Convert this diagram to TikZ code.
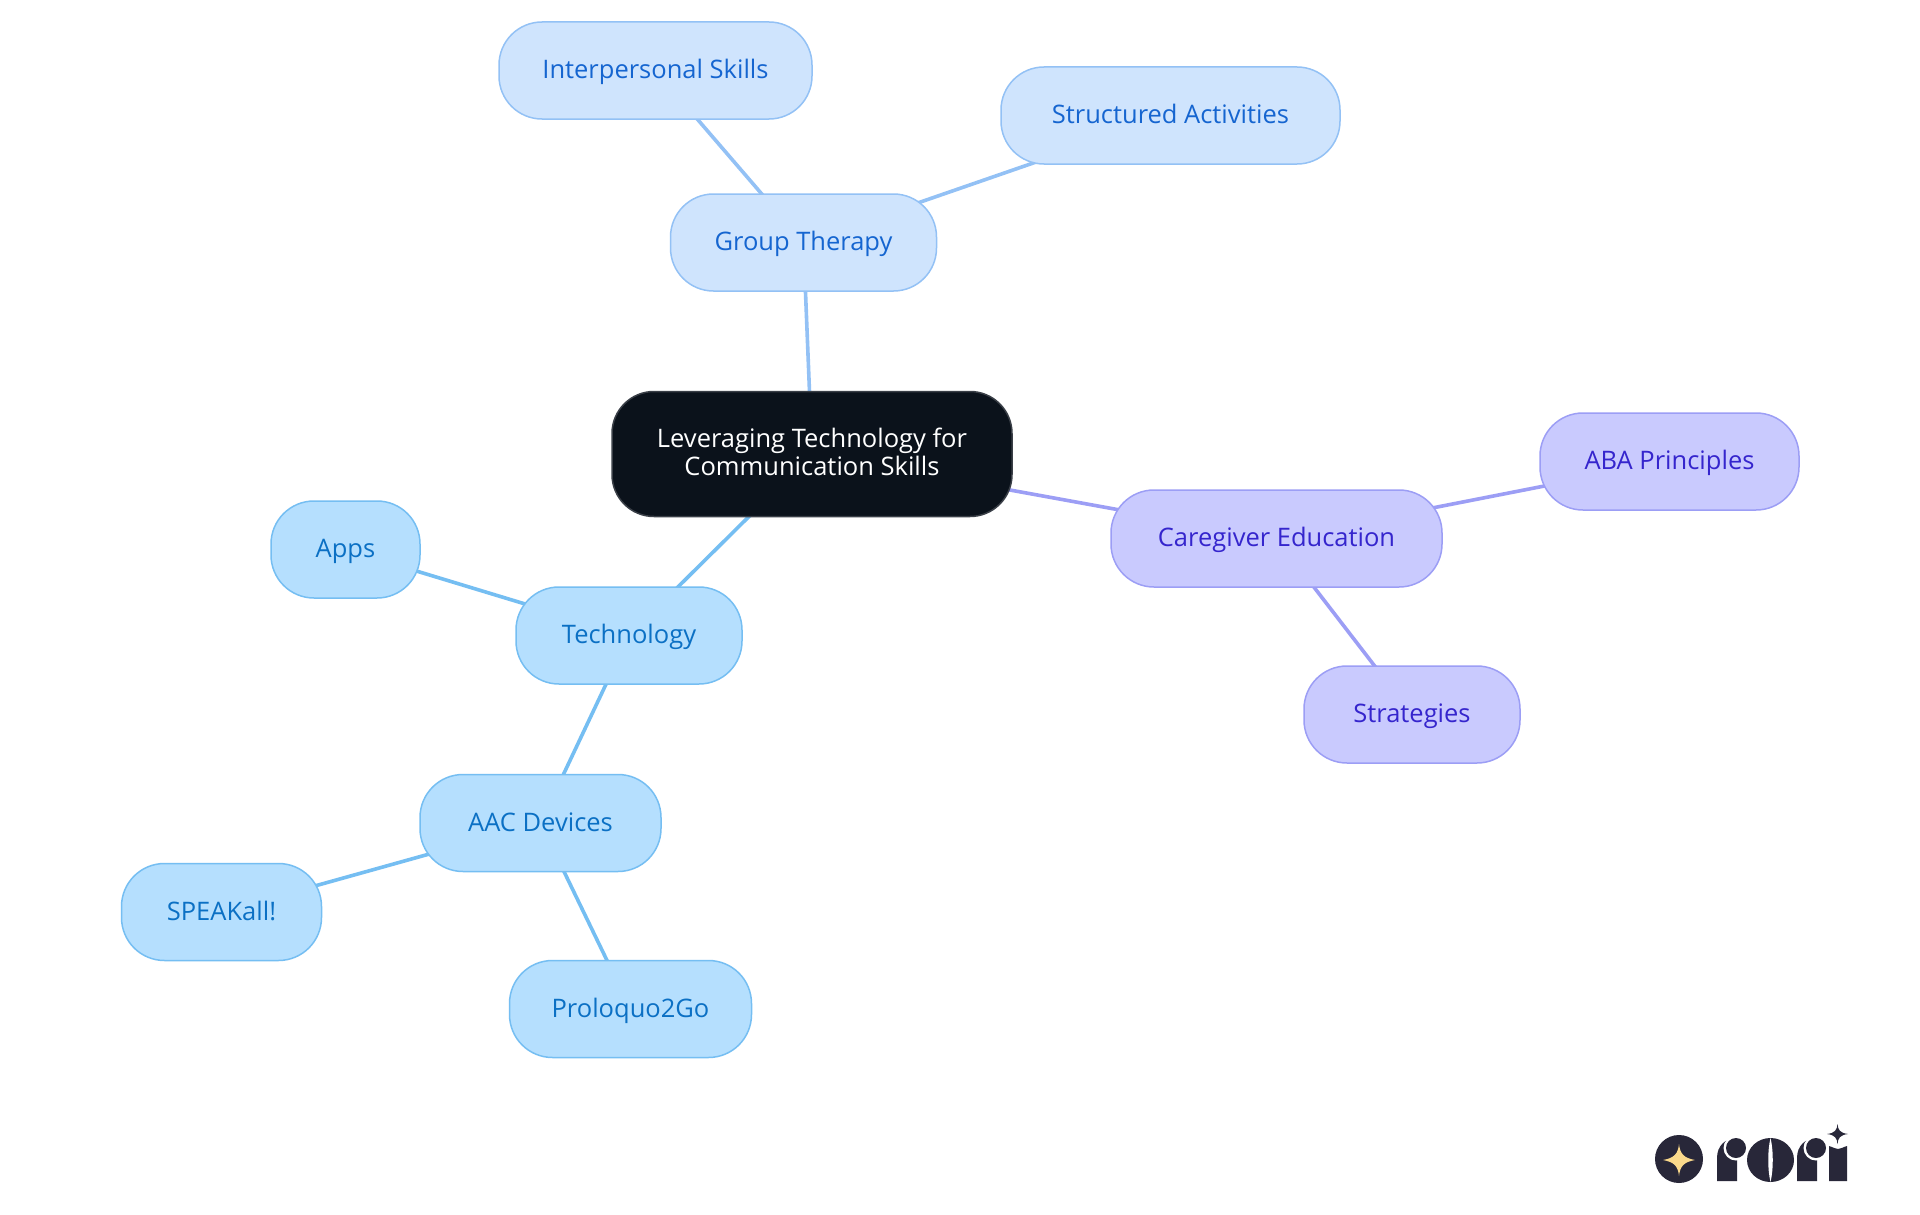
\documentclass[tikz,border=0pt]{standalone}
\usepackage{fontspec}
\setmainfont{Open Sans}
\definecolor{rootfill}{HTML}{0B121B}
\definecolor{rootline}{HTML}{3A3F47}
\definecolor{gfill}{HTML}{CFE4FD}
\definecolor{gline}{HTML}{93C1F5}
\definecolor{gtext}{HTML}{1565D0}
\definecolor{pfill}{HTML}{C9CAFE}
\definecolor{pline}{HTML}{9C9EF5}
\definecolor{ptext}{HTML}{3525CD}
\definecolor{tfill}{HTML}{B5DFFE}
\definecolor{tline}{HTML}{75BEF2}
\definecolor{ttext}{HTML}{0B70C4}
\definecolor{logod}{HTML}{282739}
\definecolor{logoy}{HTML}{FAD98B}
\pgfdeclarelayer{back}
\pgfsetlayers{back,main}
\tikzset{
 x=1pt,y=-1pt,
 mm/.style={rounded corners=43pt,inner sep=0pt,line width=1.5pt,align=center,font=\fontsize{25.5}{27.5}\selectfont,text height=20pt,text depth=4pt},
 groupbox/.style={mm,draw=gline,fill=gfill,text=gtext},
 purplebox/.style={mm,draw=pline,fill=pfill,text=ptext},
 techbox/.style={mm,draw=tline,fill=tfill,text=ttext},
 rootbox/.style={mm,draw=rootline,fill=rootfill,text=white,rounded corners=42pt,text height=46pt},
 glink/.style={draw=gline,line width=3.6pt},
 plink/.style={draw=pline,line width=3.6pt},
 tlink/.style={draw=tline,line width=3.6pt},
}
\begin{document}
\begin{tikzpicture}
\useasboundingbox (0,0) rectangle (1920,1215);
\node[rootbox,minimum width=400pt,minimum height=125pt] (root) at (812,454) {Leveraging Technology for\\Communication Skills};
\node[groupbox,minimum width=266pt,minimum height=97pt] (gt) at (803.5,242.5) {Group Therapy};
\node[groupbox,minimum width=313pt,minimum height=97pt] (is) at (655.5,70.5) {Interpersonal Skills};
\node[groupbox,minimum width=339pt,minimum height=97pt] (sa) at (1170.5,115.5) {Structured Activities};
\node[purplebox,minimum width=331pt,minimum height=97pt] (ce) at (1276.5,538.5) {Caregiver Education};
\node[purplebox,minimum width=259pt,minimum height=97pt] (ab) at (1669.5,461.5) {ABA Principles};
\node[purplebox,minimum width=216pt,minimum height=97pt] (st) at (1412,714.5) {Strategies};
\node[techbox,minimum width=226pt,minimum height=97pt] (te) at (629,635.5) {Technology};
\node[techbox,minimum width=149pt,minimum height=97pt] (ap) at (345.5,549.5) {Apps};
\node[techbox,minimum width=241pt,minimum height=97pt] (aa) at (540.5,823) {AAC Devices};
\node[techbox,minimum width=200pt,minimum height=97pt] (sp) at (221.5,912) {SPEAKall!};
\node[techbox,minimum width=242pt,minimum height=97pt] (pr) at (630.5,1009) {Proloquo2Go};
\begin{pgfonlayer}{back}
\fill[white] (0,0) rectangle (1920,1215);
\path[glink] (root.center)--(gt.center) (gt.center)--(is.center) (gt.center)--(sa.center);
\path[plink] (root.center)--(ce.center) (ce.center)--(ab.center) (ce.center)--(st.center);
\path[tlink] (root.center)--(te.center) (te.center)--(ap.center) (te.center)--(aa.center) (aa.center)--(sp.center) (aa.center)--(pr.center);
\end{pgfonlayer}
% logo
\fill[logod] (1679,1159) circle (24);
\fill[logoy] (1679,1144) .. controls (1680,1154) and (1684,1158) .. (1695,1160) .. controls (1684,1162) and (1680,1166) .. (1679,1176) .. controls (1678,1166) and (1674,1162) .. (1663,1160) .. controls (1674,1158) and (1678,1154) .. (1679,1144) -- cycle;
\foreach \dx in {0,80}{
\begin{scope}[xshift=\dx pt]
\fill[logod] (1717,1181) -- (1717,1158) .. controls (1717,1146) and (1725,1138) .. (1737,1138) -- (1737,1181) -- cycle;
\fill[white] (1736,1148) circle (12.5);
\fill[logod] (1736,1148) circle (10);
\end{scope}
}
\fill[logod] (1770.5,1160) ellipse (23.5 and 22);
\fill[white] (1770.5,1138) .. controls (1773.5,1150) and (1773.5,1170) .. (1770.5,1182) .. controls (1767.5,1170) and (1767.5,1150) .. (1770.5,1138) -- cycle;
\fill[logod] (1829,1181) -- (1829,1146) .. controls (1833,1147) and (1835,1149) .. (1838,1149) .. controls (1841,1149) and (1843,1147) .. (1847,1146) -- (1847,1181) -- cycle;
\fill[logod] (1837.5,1124) .. controls (1838,1130) and (1840,1133) .. (1848,1134) .. controls (1840,1135) and (1838,1138) .. (1837.5,1144) .. controls (1837,1138) and (1835,1135) .. (1827,1134) .. controls (1835,1133) and (1837,1130) .. (1837.5,1124) -- cycle;
\end{tikzpicture}
\end{document}
